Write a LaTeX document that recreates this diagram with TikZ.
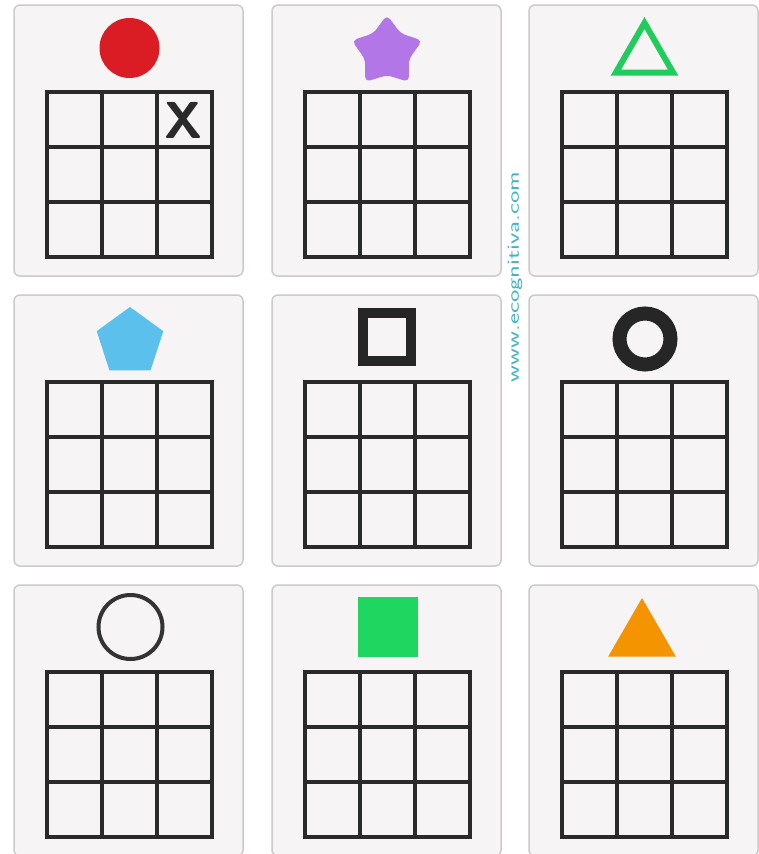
\documentclass[tikz,border=0pt]{standalone}
\usepackage{tikz}
\usetikzlibrary{shapes.geometric,calc}
\definecolor{cardF}{RGB}{246,244,244}
\definecolor{cardB}{RGB}{204,202,202}
\definecolor{gridK}{RGB}{42,42,42}
\definecolor{dotR}{RGB}{218,28,36}
\definecolor{starP}{RGB}{178,118,230}
\definecolor{triG}{RGB}{32,204,92}
\definecolor{pentB}{RGB}{92,192,236}
\definecolor{sqG}{RGB}{30,214,96}
\definecolor{triO}{RGB}{244,148,0}
\definecolor{wmT}{RGB}{64,180,196}

\begin{document}
\begin{tikzpicture}[
  x=1pt, y=-1pt,
  card/.style={rectangle, rounded corners=6pt, draw=cardB, line width=1.5pt, fill=cardF,
               minimum width=229pt, minimum height=271pt, inner sep=0pt, outer sep=0pt},
  gridline/.style={draw=gridK, line width=4pt, line cap=rect},
  sym/.style={inner sep=0pt, outer sep=0pt},
  tri/.style={sym, regular polygon, regular polygon sides=3}]

  \useasboundingbox (0,0) rectangle (759,854);
  \fill[white] (0,0) rectangle (759,854);

  % nine cards
  \foreach \r/\cy in {1/5,2/295,3/585}
    \foreach \c/\cx in {1/14,2/272,3/529}
      \node[card] (card\r\c) at (\cx+114.5,\cy+135.5) {};

  % a 3x3 grid on each card
  \foreach \r in {1,2,3}
    \foreach \c in {1,2,3} {
      \coordinate (g\r\c) at ($(card\r\c.north west)+(32.5,87)$);
      \foreach \i in {0,...,3} {
        \draw[gridline] ($(g\r\c)+(\i*55,0)$) -- ($(g\r\c)+(\i*55,165)$);
        \draw[gridline] ($(g\r\c)+(0,\i*55)$) -- ($(g\r\c)+(165,\i*55)$);
      }
    }

  % symbols above the grids
  \node[sym, circle, fill=dotR, minimum size=60pt] (dot) at ($(card11.north)+(1,43)$) {};
  \node[sym, star, star points=5, star point ratio=1.6, fill=starP, rounded corners=5pt,
        minimum size=74pt] (star) at ($(card12.north)+(0.5,47)$) {};
  \node[tri, draw=triG, line width=6pt, minimum size=66pt] (tri) at ($(card13.north)+(1,51)$) {};
  \node[sym, regular polygon, regular polygon sides=5, fill=pentB,
        minimum size=70pt] (pent) at ($(card21.north)+(1.5,47)$) {};
  \node[sym, rectangle, draw=black!85, line width=10pt, minimum size=48pt] (box) at ($(card22.north)+(0,42)$) {};
  \node[sym, circle, draw=black!85, line width=14pt, minimum size=51pt] (ring) at ($(card23.north)+(1.5,44)$) {};
  \node[sym, circle, draw=black!80, line width=4pt, minimum size=64pt] (hoop) at ($(card31.north)+(2,42)$) {};
  \node[sym, rectangle, fill=sqG, minimum size=60pt] (sq) at ($(card32.north)+(1.5,42)$) {};
  \node[tri, fill=triO, minimum size=78pt] (tri2) at ($(card33.north)+(-1.5,52)$) {};

  % the mark in the first card
  \node[sym, font=\fontsize{52}{52}\selectfont\sffamily\bfseries, text=gridK] (mark)
    at ($(g11)+(137.5,28.5)$) {X};

  \node[rotate=90, text=wmT, font=\fontsize{17}{17}\selectfont\sffamily] (wm) at (515,277)
    {\scalebox{1.55}[1]{www.ecognitiva.com}};
\end{tikzpicture}
\end{document}
